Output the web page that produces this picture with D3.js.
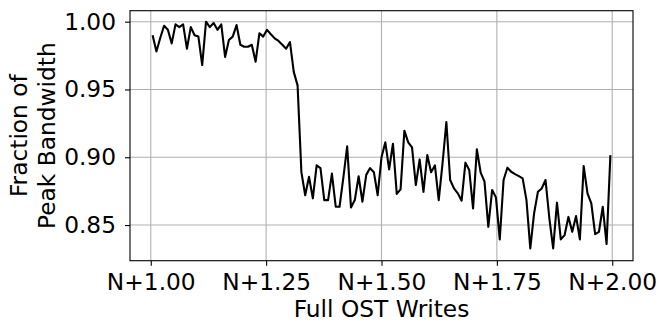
<!DOCTYPE html>
<html>
<head>
<meta charset="utf-8">
<script src="https://cdn.jsdelivr.net/npm/d3@7"></script>
<style>
  body { margin: 0; background: #fff; }
</style>
</head>
<body>
<div id="chart"></div>
<script>
// fraction of peak bandwidth, one sample per step between N+1 and N+2 full OST writes
const bandwidth = [
  0.990, 0.978, 0.988, 0.997, 0.994, 0.984, 0.998, 0.996, 0.998, 0.980,
  0.996, 0.990, 0.989, 0.968, 1.000, 0.996, 0.999, 0.994, 0.998, 0.974,
  0.9865, 0.989, 0.9975, 0.983, 0.9815, 0.9815, 0.983, 0.9705, 0.9915, 0.989,
  0.994, 0.9907, 0.9877, 0.9858, 0.983, 0.980, 0.985, 0.963, 0.953, 0.889,
  0.872, 0.8856, 0.8697, 0.894, 0.892, 0.8684, 0.8684, 0.888, 0.8635, 0.8635,
  0.885, 0.908, 0.863, 0.8684, 0.886, 0.8672, 0.887, 0.892, 0.889, 0.872,
  0.900, 0.911, 0.891, 0.910, 0.873, 0.8763, 0.9196, 0.911, 0.9073, 0.8795,
  0.8984, 0.8745, 0.9016, 0.889, 0.894, 0.8684, 0.8955, 0.926, 0.8832, 0.877,
  0.8734, 0.868, 0.896, 0.8906, 0.8623, 0.9058, 0.8886, 0.882, 0.8487, 0.8758,
  0.8704, 0.8394, 0.8832, 0.8923, 0.8893, 0.8876, 0.8861, 0.8844, 0.8684, 0.8328,
  0.8586, 0.8745, 0.877, 0.8832, 0.855, 0.8328, 0.8665, 0.8394, 0.8426, 0.856,
  0.845, 0.8566, 0.8394, 0.8935, 0.8734, 0.866, 0.8433, 0.845, 0.8635, 0.836,
  0.9016
];
const firstWrite = 1.004;
const lastWrite = 1.996;
const xTicks = [1.00, 1.25, 1.50, 1.75, 2.00];
const yTicks = [0.85, 0.90, 0.95, 1.00];

const font = 'DejaVu Sans, sans-serif';
const fontSize = '23.3px';

const margin = { top: 10.7, right: 26, bottom: 62.3, left: 130 };
const width = 659 - margin.left - margin.right;
const height = 323 - margin.top - margin.bottom;

// samples are evenly spaced along the x axis
const step = (lastWrite - firstWrite) / (bandwidth.length - 1);
const points = bandwidth.map((v, i) => ({ w: firstWrite + i * step, v }));

const svg = d3.select('#chart')
  .append('svg')
  .attr('width', 659)
  .attr('height', 323)
  .append('g')
  .attr('transform', `translate(${margin.left},${margin.top})`);

const x = d3.scaleLinear().domain([0.955, 2.045]).range([0, width]);
const y = d3.scaleLinear().domain([0.8237, 1.0081]).range([height, 0]);

// grid
svg.append('g')
  .selectAll('line')
  .data(xTicks)
  .enter().append('line')
  .attr('x1', d => x(d)).attr('x2', d => x(d))
  .attr('y1', 0).attr('y2', height)
  .attr('stroke', '#b0b0b0').attr('stroke-width', 1.1);

svg.append('g')
  .selectAll('line')
  .data(yTicks)
  .enter().append('line')
  .attr('x1', 0).attr('x2', width)
  .attr('y1', d => y(d)).attr('y2', d => y(d))
  .attr('stroke', '#b0b0b0').attr('stroke-width', 1.1);

// line
const line = d3.line()
  .x(d => x(d.w))
  .y(d => y(d.v));

svg.append('path')
  .datum(points)
  .attr('fill', 'none')
  .attr('stroke', '#000')
  .attr('stroke-width', 2.1)
  .attr('stroke-linejoin', 'round')
  .attr('d', line);

// axes
const xAxis = svg.append('g')
  .attr('transform', `translate(0,${height})`)
  .call(d3.axisBottom(x).tickValues(xTicks).tickFormat(d => 'N+' + d.toFixed(2))
    .tickSize(5).tickSizeOuter(0).tickPadding(8));

const yAxis = svg.append('g')
  .call(d3.axisLeft(y).tickValues(yTicks).tickFormat(d => d.toFixed(2))
    .tickSize(5).tickSizeOuter(0).tickPadding(9));

[xAxis, yAxis].forEach(a => {
  a.select('.domain').remove();
  a.selectAll('line').attr('stroke', '#000').attr('stroke-width', 1.1);
  a.selectAll('text').attr('fill', '#000').style('font-family', font).style('font-size', fontSize);
});

// frame
svg.append('rect')
  .attr('width', width)
  .attr('height', height)
  .attr('fill', 'none')
  .attr('stroke', '#000')
  .attr('stroke-width', 1.1);

// axis labels
svg.append('text')
  .attr('x', width / 2)
  .attr('y', 317 - margin.top)
  .attr('text-anchor', 'middle')
  .style('font-family', font)
  .style('font-size', fontSize)
  .text('Full OST Writes');

const yLabel = svg.append('g')
  .attr('transform', `translate(${-margin.left},${height / 2}) rotate(-90)`);

yLabel.append('text')
  .attr('x', 0).attr('y', 27)
  .attr('text-anchor', 'middle')
  .style('font-family', font)
  .style('font-size', fontSize)
  .text('Fraction of');

yLabel.append('text')
  .attr('x', 0).attr('y', 55)
  .attr('text-anchor', 'middle')
  .style('font-family', font)
  .style('font-size', fontSize)
  .text('Peak Bandwidth');
</script>
</body>
</html>
